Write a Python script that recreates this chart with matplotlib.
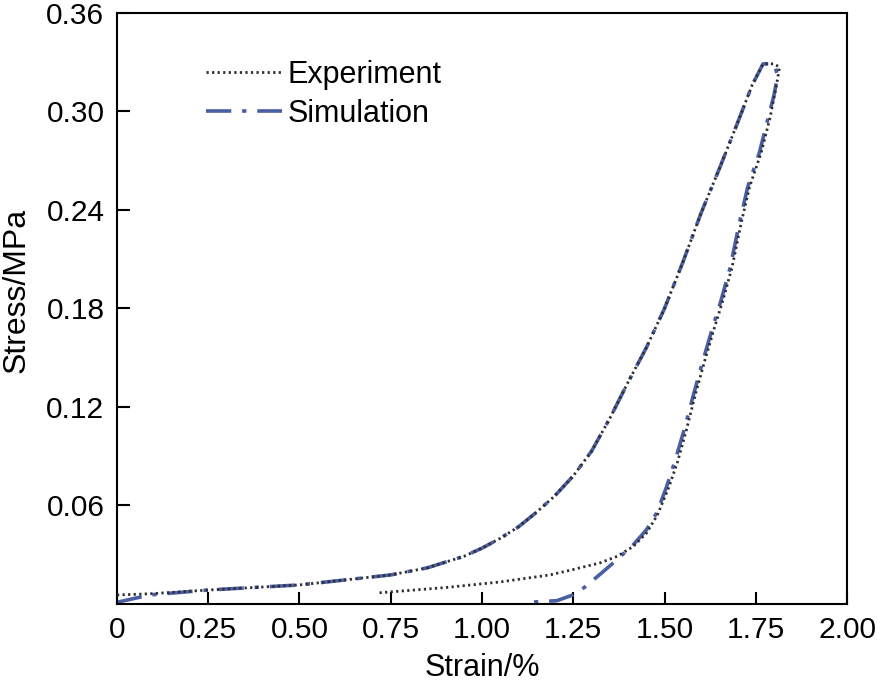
import numpy as np
import matplotlib
matplotlib.use("Agg")
import matplotlib.pyplot as plt

plt.rcParams['font.family'] = ['Liberation Sans', 'DejaVu Sans']

# loading branch (shared shape)
load_x = [0.0, 0.09, 0.25, 0.50, 0.75, 0.85, 0.95, 1.00, 1.05, 1.10, 1.15,
          1.20, 1.25, 1.30, 1.35, 1.40, 1.45, 1.50, 1.55, 1.60, 1.65, 1.70,
          1.74, 1.77, 1.80]
load_y = [0.001, 0.0055, 0.0085, 0.0116, 0.0177, 0.022, 0.029, 0.034, 0.040,
          0.047, 0.056, 0.066, 0.078, 0.093, 0.113, 0.135, 0.156, 0.180,
          0.208, 0.238, 0.265, 0.293, 0.316, 0.329, 0.329]

# experiment
exp_load_x = [0.0, 0.09] + load_x[2:]
exp_load_y = [0.0055, 0.0062] + load_y[2:]
exp_unload_x = [1.815, 1.81, 1.79, 1.765, 1.733, 1.71, 1.685, 1.66, 1.635,
                1.61, 1.585, 1.56, 1.535, 1.51, 1.48, 1.45, 1.414, 1.37,
                1.323, 1.25, 1.186, 1.049, 0.90, 0.712]
exp_unload_y = [0.327, 0.32, 0.297, 0.275, 0.254, 0.232, 0.205, 0.185, 0.167,
                0.148, 0.128, 0.106, 0.086, 0.070, 0.054, 0.043, 0.035, 0.029,
                0.025, 0.021, 0.0177, 0.0134, 0.0100, 0.0067]

# simulation
sim_unload_x = [1.81, 1.80, 1.785, 1.76, 1.728, 1.705, 1.68, 1.655, 1.63,
                1.605, 1.58, 1.555, 1.53, 1.505, 1.48, 1.45, 1.414, 1.37,
                1.323, 1.28, 1.249, 1.205, 1.126]
sim_unload_y = [0.322, 0.31, 0.297, 0.275, 0.254, 0.232, 0.205, 0.185, 0.167,
                0.148, 0.128, 0.107, 0.088, 0.071, 0.056, 0.045, 0.036, 0.027,
                0.018, 0.010, 0.0055, 0.002, 0.001]

exp_x = exp_load_x + exp_unload_x
exp_y = exp_load_y + exp_unload_y
sim_x = load_x + sim_unload_x
sim_y = load_y + sim_unload_y

fig = plt.figure(figsize=(8.77, 6.83), dpi=100)
ax = fig.add_axes([0.1334, 0.1157, 0.8324, 0.8653])

ax.plot(sim_x, sim_y, color='#4a5ea3', lw=2.6, linestyle=(0, (7, 3, 1.2, 3)),
        label='Simulation', zorder=2)
ax.plot(exp_x, exp_y, color='#2e2e2e', lw=2.0, linestyle=(0, (0.8, 1.2)),
        label='Experiment', zorder=3)

ax.set_xlim(0, 2.0)
ax.set_ylim(0, 0.36)
ax.set_xticks([0, 0.25, 0.5, 0.75, 1.0, 1.25, 1.5, 1.75, 2.0])
ax.set_xticklabels(['0', '0.25', '0.50', '0.75', '1.00', '1.25', '1.50', '1.75', '2.00'])
ax.set_yticks([0.06, 0.12, 0.18, 0.24, 0.30, 0.36])
ax.set_yticklabels(['0.06', '0.12', '0.18', '0.24', '0.30', '0.36'])
ax.tick_params(direction='in', length=9, width=1.5, labelsize=21.5, pad=9)
for s in ax.spines.values():
    s.set_linewidth(1.5)

ax.set_xlabel('Strain/%', fontsize=22, labelpad=6)
ax.set_ylabel('Stress/MPa', fontsize=23)
ax.yaxis.set_label_coords(-0.117, 0.53)

h, l = ax.get_legend_handles_labels()
ax.legend(h[::-1], l[::-1], loc='upper left', bbox_to_anchor=(0.101, 0.946),
          frameon=False, fontsize=22, handlelength=2.5, handletextpad=0.16,
          labelspacing=0.28, borderpad=0)

fig.savefig('out.png', dpi=100)
